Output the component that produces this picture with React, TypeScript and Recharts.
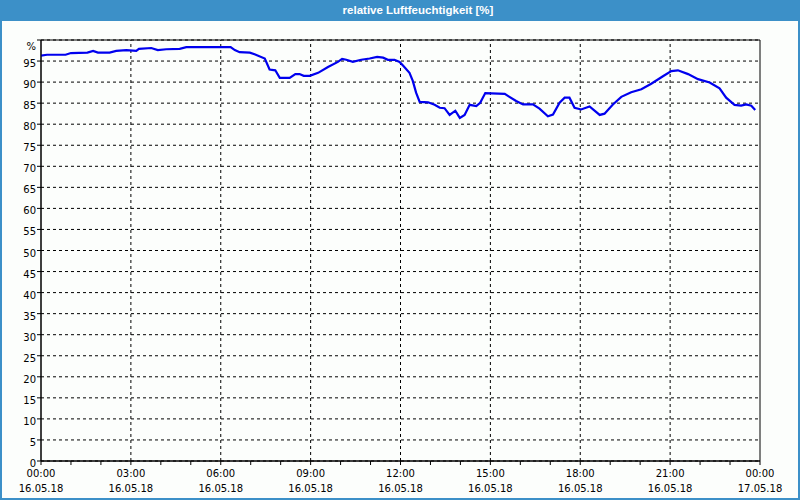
import React from "react";
import {
  LineChart,
  Line,
  XAxis,
  YAxis,
  CartesianGrid,
  ReferenceLine,
  ReferenceArea,
} from "recharts";

// hours since 16.05.18 00:00
const hours = [
  0, 0.2, 0.82, 1.0, 1.55, 1.74, 1.9, 2.29, 2.51, 2.85, 3.18, 3.27, 3.68, 3.9,
  4.18, 4.63, 4.85, 6.33, 6.47, 6.63, 6.97, 7.13, 7.47, 7.63, 7.82, 7.97, 8.3,
  8.49, 8.63, 8.77, 8.97, 9.25, 9.58, 9.91, 10.05, 10.19, 10.41, 10.69, 10.97,
  11.22, 11.42, 11.58, 11.8, 11.97, 12.09, 12.3, 12.41, 12.52, 12.64, 12.92,
  13.14, 13.31, 13.47, 13.64, 13.83, 13.98, 14.14, 14.31, 14.53, 14.66, 14.83,
  15.48, 15.86, 16.09, 16.42, 16.64, 16.92, 17.09, 17.31, 17.48, 17.64, 17.81,
  18.03, 18.31, 18.65, 18.81, 19.09, 19.37, 19.7, 20.04, 20.37, 20.76, 21.04,
  21.26, 21.6, 21.93, 22.32, 22.65, 22.87, 23.15, 23.37, 23.54, 23.71, 23.84,
];

// relative humidity in %
const humidity = [
  96.3, 96.5, 96.5, 96.9, 97.0, 97.4, 97.0, 97.0, 97.4, 97.6, 97.4, 97.9, 98.1,
  97.6, 97.8, 97.9, 98.3, 98.3, 97.6, 97.1, 97.0, 96.6, 95.6, 93.0, 92.8, 91.0,
  91.0, 91.9, 91.9, 91.5, 91.5, 92.2, 93.6, 94.8, 95.5, 95.3, 94.8, 95.3, 95.6,
  96.0, 95.8, 95.3, 95.3, 94.8, 93.9, 92.2, 90.3, 87.5, 85.3, 85.2, 84.6, 83.9,
  83.8, 82.2, 83.2, 81.5, 82.2, 84.6, 84.3, 85.1, 87.4, 87.2, 85.5, 84.7, 84.7,
  83.7, 81.9, 82.3, 85.1, 86.3, 86.3, 83.9, 83.5, 84.2, 82.2, 82.5, 84.7, 86.5,
  87.6, 88.3, 89.6, 91.4, 92.6, 92.8, 91.9, 90.7, 89.9, 88.5, 86.3, 84.6, 84.4,
  84.7, 84.4, 83.4,
];

const hourTicks = Array.from({ length: 25 }, (_, i) => i);
const majorHours = [3, 6, 9, 12, 15, 18, 21];
const yTicks = Array.from({ length: 21 }, (_, i) => i * 5);
const timeLabels = ["00:00", "03:00", "06:00", "09:00", "12:00", "15:00", "18:00", "21:00", "00:00"];
const dateLabels = ["16.05.18", "16.05.18", "16.05.18", "16.05.18", "16.05.18", "16.05.18", "16.05.18", "16.05.18", "17.05.18"];

const data = hours.map((h, i) => ({ h, rh: humidity[i] }));

const FONT = "'DejaVu Sans', Verdana, sans-serif";

const TimeTick = (props: any) => {
  const { x, y, payload } = props;
  const v = payload.value as number;
  if (v % 3 !== 0) return null;
  const i = v / 3;
  return (
    <text x={x} y={y} textAnchor="middle" fontSize={10} fontFamily={FONT} fill="#000">
      <tspan x={x} dy={12}>{timeLabels[i]}</tspan>
      <tspan x={x} dy={15}>{dateLabels[i]}</tspan>
    </text>
  );
};

const PercentTick = (props: any) => {
  const { x, y, payload } = props;
  const v = payload.value as number;
  return (
    <text x={x} y={y} dy={v === 100 ? 10 : 6} textAnchor="end" fontSize={10} fontFamily={FONT} fill="#000">
      {v === 100 ? "%" : v}
    </text>
  );
};

export default function App() {
  return (
    <div
      style={{
        position: "absolute",
        left: 0,
        top: 0,
        width: 800,
        height: 500,
        boxSizing: "border-box",
        border: "2px solid #3c90c8",
        background: "#fcfefc",
        fontFamily: FONT,
      }}
    >
      <div
        style={{
          position: "absolute",
          left: 0,
          top: 0,
          width: 796,
          height: 19,
          background: "#3c90c8",
        }}
      >
        <div
          style={{
            position: "absolute",
            left: 316,
            width: 200,
            top: 2,
            textAlign: "center",
            color: "#fff",
            fontSize: 11.5,
            fontFamily: "'Liberation Sans', Arial, sans-serif",
            fontWeight: "bold",
            whiteSpace: "nowrap",
          }}
        >
          relative Luftfeuchtigkeit [%]
        </div>
      </div>
      <div style={{ position: "absolute", left: -2, top: -2 }}>
        <LineChart
          width={800}
          height={500}
          data={data}
          margin={{ top: 40, right: 40, left: 6, bottom: 1 }}
        >
          <CartesianGrid vertical={false} stroke="#000" strokeDasharray="3 3" />
          {majorHours.map((h) => (
            <ReferenceLine key={h} x={h} stroke="#000" strokeDasharray="3 3" />
          ))}
          <ReferenceArea x1={0} x2={24} y1={0} y2={100} fill="none" stroke="#000" strokeWidth={1} />
          <XAxis
            dataKey="h"
            type="number"
            domain={[0, 24]}
            ticks={hourTicks}
            interval={0}
            height={38}
            tickSize={4}
            tickMargin={0}
            stroke="#000"
            tickLine={{ stroke: "#000" }}
            tick={<TimeTick />}
          />
          <YAxis
            type="number"
            domain={[0, 100]}
            ticks={yTicks}
            interval={0}
            width={35}
            tickSize={4}
            tickMargin={1}
            stroke="#000"
            tickLine={{ stroke: "#000" }}
            tick={<PercentTick />}
          />
          <Line
            type="linear"
            dataKey="rh"
            stroke="#0000ee"
            strokeWidth={2.2}
            dot={false}
            isAnimationActive={false}
          />
        </LineChart>
      </div>
    </div>
  );
}
